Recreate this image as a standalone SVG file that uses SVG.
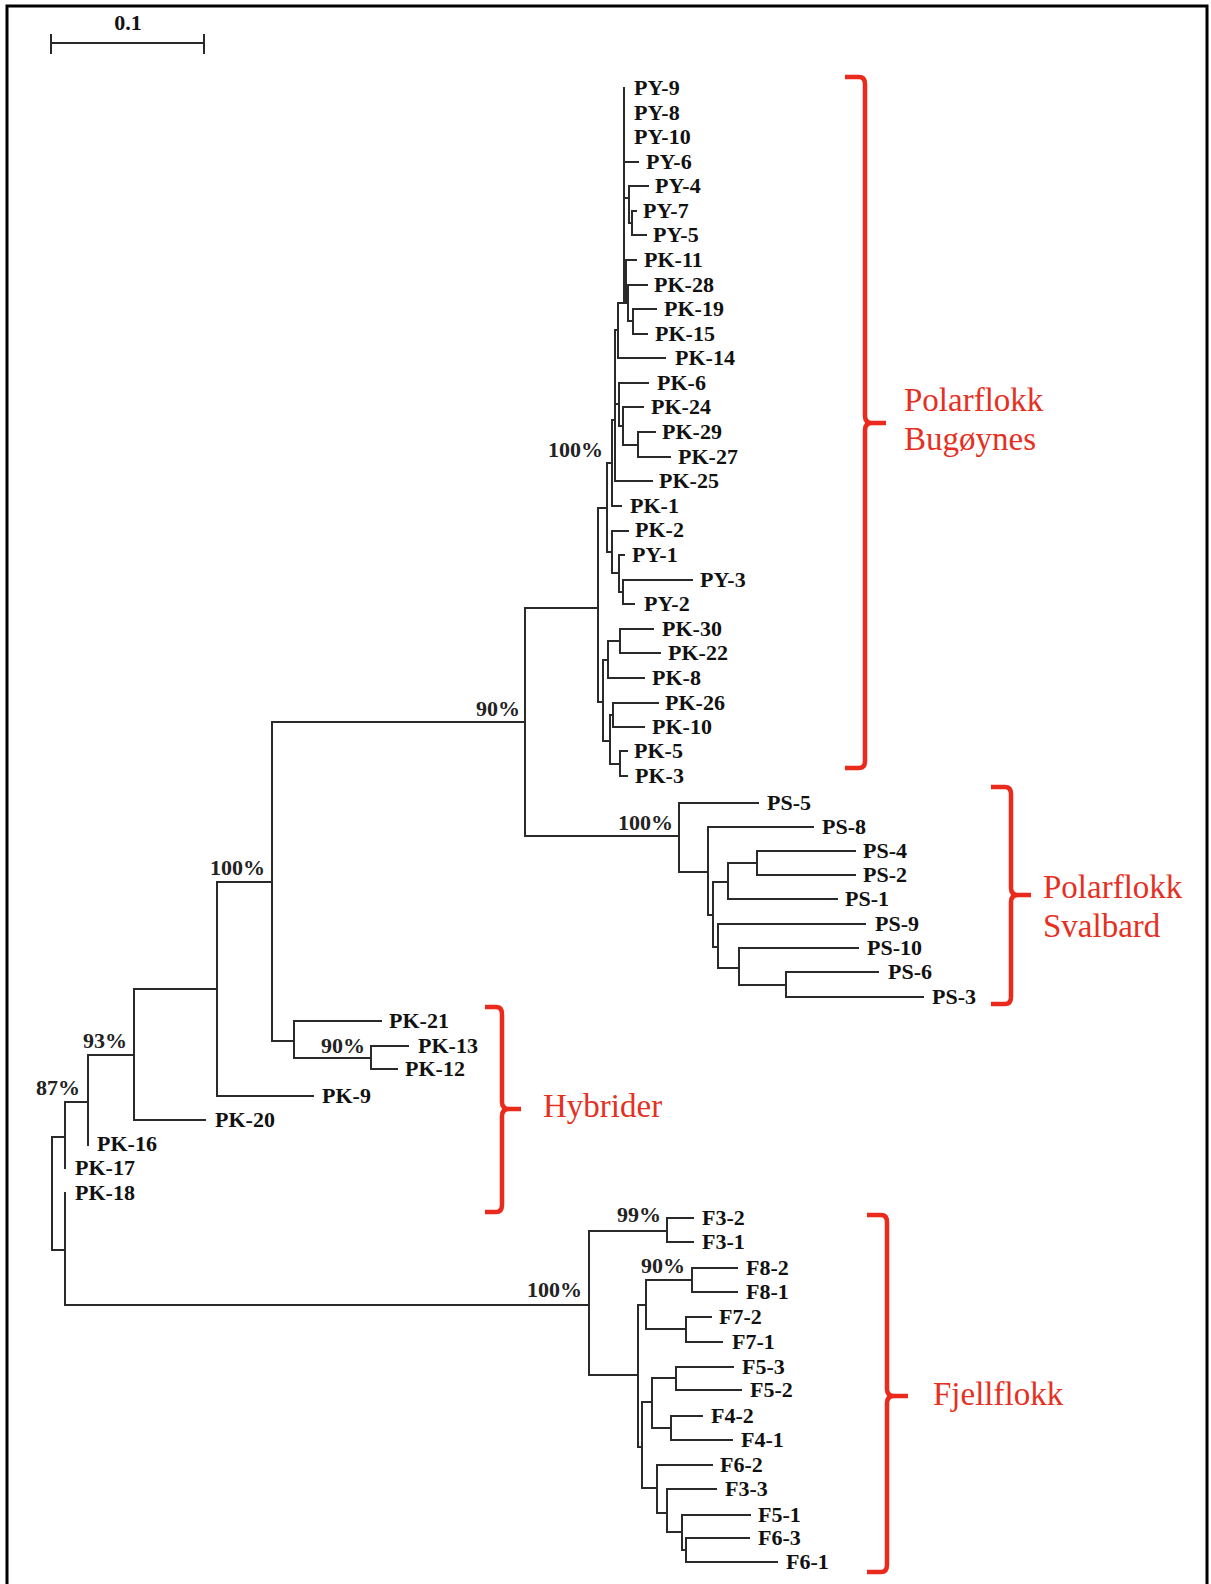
<svg xmlns="http://www.w3.org/2000/svg" width="1211" height="1584" viewBox="0 0 1211 1584">
<style>
.e{fill:none;stroke:#2a2a2a;stroke-width:2;stroke-linecap:square}
.lb{font-family:"Liberation Serif","Times New Roman",serif;font-weight:bold;font-size:22px;fill:#111}
.bs{font-family:"Liberation Serif","Times New Roman",serif;font-weight:bold;font-size:22px;fill:#222;text-anchor:end}
.br{fill:none;stroke:#ea2a1c;stroke-width:4.5;stroke-linejoin:round}
.rt{font-family:"Liberation Serif","Times New Roman",serif;font-size:33px;fill:#e6301f}
</style>
<rect x="0" y="0" width="1211" height="1584" fill="#fff"/>
<rect x="7" y="6" width="1200" height="1600" fill="none" stroke="#000" stroke-width="3"/>
<g id="scale">
<path class="e" d="M51,43 H204 M51,35 V53 M204,35 V53"/>
<text class="lb" x="128" y="30" text-anchor="middle">0.1</text>
</g>
<g id="connectors">
<path class="e" d="M52,1137 V1250 M52,1137 H65 M52,1250 H65 M65,1102 V1168 M65,1102 H88 M65,1193 V1305 H589 M88,1055 V1145 M88,1055 H134 M134,989 V1120 H205 M134,989 H217 M217,882 V1096 H313 M217,882 H272 M272,722 V1041 H294 M294,1021 V1058 H371 M294,1021 H381 M371,1046 V1069 H397 M371,1046 H408 M272,722 H525 M525,608 V836 H679 M525,608 H598"/>
<path class="e" d="M679,803 V872 H708 M679,803 H758 M708,827 V915 H713 M708,827 H813 M713,882 V947 H718 M713,882 H728 M728,863 V899 H837 M728,863 H757 M757,851 V875 H855 M757,851 H855 M718,924 V968 H739 M718,924 H865 M739,948 V985 H786 M739,948 H858 M786,972 V997 H923 M786,972 H878"/>
<path class="e" d="M589,1231 V1375 H638 M589,1231 H667 M667,1218 V1242 H693 M667,1218 H693 M638,1305 V1447 H642 M638,1305 H646 M646,1280 V1329 H686 M646,1280 H692 M692,1268 V1292 H737 M692,1268 H737 M686,1317 V1342 H722 M686,1317 H711 M642,1402 V1488 H657 M642,1402 H652 M652,1378 V1428 H671 M652,1378 H676 M676,1367 V1390 H741 M676,1367 H733 M671,1416 V1440 H732 M671,1416 H702 M657,1465 V1513 H667 M657,1465 H712 M667,1489 V1532 H682 M667,1489 H716 M682,1515 V1550 H686 M682,1515 H750 M686,1538 V1562 H777 M686,1538 H749"/>
<path class="e" d="M598,508 V702 H603 M598,508 H607 M607,463 V552 H612 M607,463 H612 M612,420 V506 H621 M612,420 H615 M615,330 V481 H652 M615,330 H618 M615,404 H619 M618,303 V358 H665 M618,303 H624 M624,88 V303 H628 M626,260 V303 M624,162 H638 M624,198 H629 M629,186 V223 H632 M629,186 H648 M632,211 V235 H646 M632,211 H636 M624,260 H636 M628,285 V321 H633 M628,285 H647 M633,309 V334 H647 M633,309 H656 M619,383 V426 H623 M619,383 H648 M623,407 V445 H638 M623,407 H643 M638,432 V457 H670 M638,432 H655 M612,531 V573 H619 M612,531 H628 M619,555 V592 H623 M619,555 H624 M623,580 V604 H634 M623,580 H692 M603,660 V741 H610 M603,660 H608 M608,641 V678 H644 M608,641 H620 M620,629 V653 H660 M620,629 H653 M610,715 V764 H620 M610,715 H613 M613,703 V727 H644 M613,703 H658 M620,751 V776 H627 M620,751 H627"/>
</g>
<g id="bootstrap">
<text class="bs" x="603" y="457">100%</text>
<text class="bs" x="520" y="716">90%</text>
<text class="bs" x="673" y="830">100%</text>
<text class="bs" x="265" y="875">100%</text>
<text class="bs" x="365" y="1053">90%</text>
<text class="bs" x="127" y="1048">93%</text>
<text class="bs" x="80" y="1095">87%</text>
<text class="bs" x="582" y="1297">100%</text>
<text class="bs" x="661" y="1222">99%</text>
<text class="bs" x="685" y="1273">90%</text>
</g>
<g id="leaves">
<text class="lb" x="634" y="95">PY-9</text>
<text class="lb" x="634" y="120">PY-8</text>
<text class="lb" x="634" y="144">PY-10</text>
<text class="lb" x="646" y="169">PY-6</text>
<text class="lb" x="655" y="193">PY-4</text>
<text class="lb" x="643" y="218">PY-7</text>
<text class="lb" x="653" y="242">PY-5</text>
<text class="lb" x="644" y="267">PK-11</text>
<text class="lb" x="654" y="292">PK-28</text>
<text class="lb" x="664" y="316">PK-19</text>
<text class="lb" x="655" y="341">PK-15</text>
<text class="lb" x="675" y="365">PK-14</text>
<text class="lb" x="657" y="390">PK-6</text>
<text class="lb" x="651" y="414">PK-24</text>
<text class="lb" x="662" y="439">PK-29</text>
<text class="lb" x="678" y="464">PK-27</text>
<text class="lb" x="659" y="488">PK-25</text>
<text class="lb" x="630" y="513">PK-1</text>
<text class="lb" x="635" y="537">PK-2</text>
<text class="lb" x="632" y="562">PY-1</text>
<text class="lb" x="700" y="587">PY-3</text>
<text class="lb" x="644" y="611">PY-2</text>
<text class="lb" x="662" y="636">PK-30</text>
<text class="lb" x="668" y="660">PK-22</text>
<text class="lb" x="652" y="685">PK-8</text>
<text class="lb" x="665" y="710">PK-26</text>
<text class="lb" x="652" y="734">PK-10</text>
<text class="lb" x="634" y="758">PK-5</text>
<text class="lb" x="635" y="783">PK-3</text>
<text class="lb" x="767" y="810">PS-5</text>
<text class="lb" x="822" y="834">PS-8</text>
<text class="lb" x="863" y="858">PS-4</text>
<text class="lb" x="863" y="882">PS-2</text>
<text class="lb" x="845" y="906">PS-1</text>
<text class="lb" x="875" y="931">PS-9</text>
<text class="lb" x="867" y="955">PS-10</text>
<text class="lb" x="888" y="979">PS-6</text>
<text class="lb" x="932" y="1004">PS-3</text>
<text class="lb" x="389" y="1028">PK-21</text>
<text class="lb" x="418" y="1053">PK-13</text>
<text class="lb" x="405" y="1076">PK-12</text>
<text class="lb" x="322" y="1103">PK-9</text>
<text class="lb" x="215" y="1127">PK-20</text>
<text class="lb" x="97" y="1151">PK-16</text>
<text class="lb" x="75" y="1175">PK-17</text>
<text class="lb" x="75" y="1200">PK-18</text>
<text class="lb" x="702" y="1225">F3-2</text>
<text class="lb" x="702" y="1249">F3-1</text>
<text class="lb" x="746" y="1275">F8-2</text>
<text class="lb" x="746" y="1299">F8-1</text>
<text class="lb" x="719" y="1324">F7-2</text>
<text class="lb" x="732" y="1349">F7-1</text>
<text class="lb" x="742" y="1374">F5-3</text>
<text class="lb" x="750" y="1397">F5-2</text>
<text class="lb" x="711" y="1423">F4-2</text>
<text class="lb" x="741" y="1447">F4-1</text>
<text class="lb" x="720" y="1472">F6-2</text>
<text class="lb" x="725" y="1496">F3-3</text>
<text class="lb" x="758" y="1522">F5-1</text>
<text class="lb" x="758" y="1545">F6-3</text>
<text class="lb" x="786" y="1569">F6-1</text>
</g>
<g id="group-bugoynes">
<path class="br" d="M845,77 H859 Q865,77 865,84 V416 Q865,423 872,423 H886 M872,423 Q865,423 865,430 V761 Q865,768 859,768 H845"/>
<text class="rt" x="904" y="411">Polarflokk</text>
<text class="rt" x="904" y="450">Bugøynes</text>
</g>
<g id="group-svalbard">
<path class="br" d="M991,787 H1005 Q1011,787 1011,794 V888 Q1011,895 1018,895 H1031 M1018,895 Q1011,895 1011,902 V997 Q1011,1004 1005,1004 H991"/>
<text class="rt" x="1043" y="898">Polarflokk</text>
<text class="rt" x="1043" y="937">Svalbard</text>
</g>
<g id="group-hybrider">
<path class="br" d="M485,1007 H496 Q502,1007 502,1014 V1102 Q502,1109 509,1109 H521 M509,1109 Q502,1109 502,1116 V1205 Q502,1212 496,1212 H485"/>
<text class="rt" x="543" y="1117">Hybrider</text>
</g>
<g id="group-fjellflokk">
<path class="br" d="M867,1215 H881 Q887,1215 887,1222 V1389 Q887,1396 894,1396 H908 M894,1396 Q887,1396 887,1403 V1565 Q887,1572 881,1572 H867"/>
<text class="rt" x="933" y="1405">Fjellflokk</text>
</g>
</svg>
